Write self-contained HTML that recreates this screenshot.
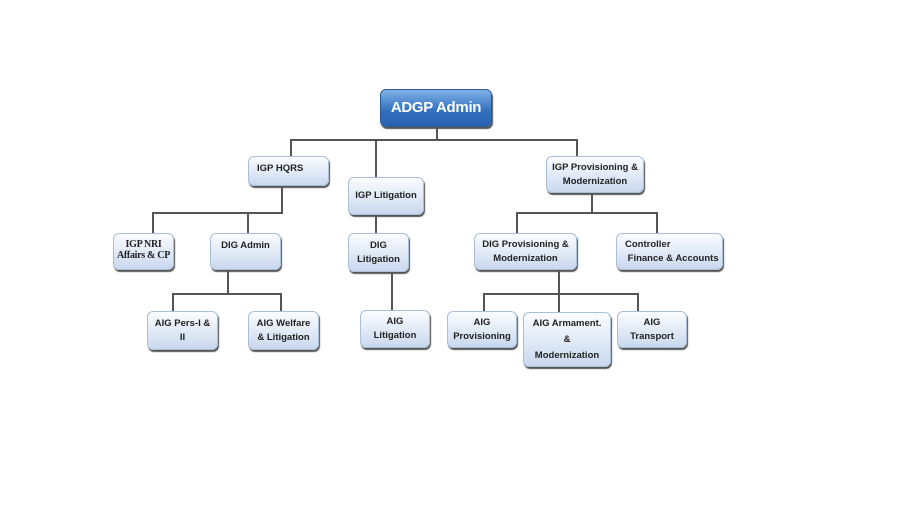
<!DOCTYPE html>
<html><head><style>
body{margin:0;width:924px;height:532px;background:#fff;position:relative;overflow:hidden;font-family:"Liberation Sans",sans-serif}
.b{position:absolute;box-sizing:border-box;border:1px solid #a9bfd9;border-radius:6px;background:linear-gradient(#fbfdff,#c9d8ee);box-shadow:1px 2px 1px #555;font-size:9.5px;font-weight:bold;color:#222;text-align:center;line-height:14px;display:flex;align-items:center;justify-content:center;flex-direction:column;white-space:nowrap}
.l{position:absolute;background:#555}
.h{height:2px}.v{width:2px}
</style></head><body>
<div class="l h" style="left:291px;top:139px;width:287px"></div>
<div class="l v" style="left:436px;top:127px;height:13px"></div>
<div class="l v" style="left:290px;top:139px;height:17px"></div>
<div class="l v" style="left:375px;top:139px;height:38px"></div>
<div class="l v" style="left:576px;top:139px;height:17px"></div>
<div class="l v" style="left:281px;top:186px;height:28px"></div>
<div class="l h" style="left:152px;top:212px;width:131px"></div>
<div class="l v" style="left:152px;top:212px;height:21px"></div>
<div class="l v" style="left:247px;top:212px;height:21px"></div>
<div class="l v" style="left:375px;top:215px;height:18px"></div>
<div class="l v" style="left:391px;top:272px;height:39px"></div>
<div class="l v" style="left:227px;top:270px;height:24px"></div>
<div class="l h" style="left:172px;top:293px;width:110px"></div>
<div class="l v" style="left:172px;top:293px;height:18px"></div>
<div class="l v" style="left:280px;top:293px;height:18px"></div>
<div class="l v" style="left:591px;top:193px;height:21px"></div>
<div class="l h" style="left:516px;top:212px;width:142px"></div>
<div class="l v" style="left:516px;top:212px;height:21px"></div>
<div class="l v" style="left:656px;top:212px;height:21px"></div>
<div class="l v" style="left:558px;top:270px;height:42px"></div>
<div class="l h" style="left:483px;top:293px;width:156px"></div>
<div class="l v" style="left:483px;top:293px;height:18px"></div>
<div class="l v" style="left:637px;top:293px;height:18px"></div>

<div class="b" style="left:380px;top:89px;width:112px;height:38px;background:linear-gradient(#7fb0e6,#2f6fbf 60%,#2a62ad);border-color:#2a5c9c;color:#fff;font-size:15px;letter-spacing:-0.3px">ADGP Admin</div>
<div class="b" style="left:248px;top:156px;width:81px;height:30px;justify-content:flex-start;padding-top:5px;align-items:flex-start;padding-left:8px">IGP HQRS</div>
<div class="b" style="left:348px;top:177px;width:76px;height:38px">IGP Litigation</div>
<div class="b" style="left:546px;top:156px;width:98px;height:37px">IGP Provisioning &amp;<br>Modernization</div>
<div class="b" style="left:113px;top:233px;width:61px;height:37px;font-family:'Liberation Serif',serif;font-size:10px;line-height:11px;justify-content:flex-start;padding-top:5px;letter-spacing:-0.3px;overflow:visible">IGP NRI<br>Affairs &amp; CP</div>
<div class="b" style="left:210px;top:233px;width:71px;height:37px;justify-content:flex-start;padding-top:5px">DIG Admin</div>
<div class="b" style="left:348px;top:233px;width:61px;height:39px">DIG<br>Litigation</div>
<div class="b" style="left:474px;top:233px;width:103px;height:37px">DIG Provisioning &amp;<br>Modernization</div>
<div class="b" style="left:616px;top:233px;width:107px;height:37px;align-items:flex-start;padding-left:8px;text-align:left">Controller<br>&nbsp;Finance &amp; Accounts</div>
<div class="b" style="left:147px;top:311px;width:71px;height:39px">AIG Pers-I &amp;<br>II</div>
<div class="b" style="left:248px;top:311px;width:71px;height:39px">AIG Welfare<br>&amp; Litigation</div>
<div class="b" style="left:360px;top:310px;width:70px;height:38px">AIG<br>Litigation</div>
<div class="b" style="left:447px;top:311px;width:70px;height:37px">AIG<br>Provisioning</div>
<div class="b" style="left:523px;top:312px;width:88px;height:55px;line-height:16px">AIG Armament.<br>&amp;<br>Modernization</div>
<div class="b" style="left:617px;top:311px;width:70px;height:37px">AIG<br>Transport</div>
</body></html>
